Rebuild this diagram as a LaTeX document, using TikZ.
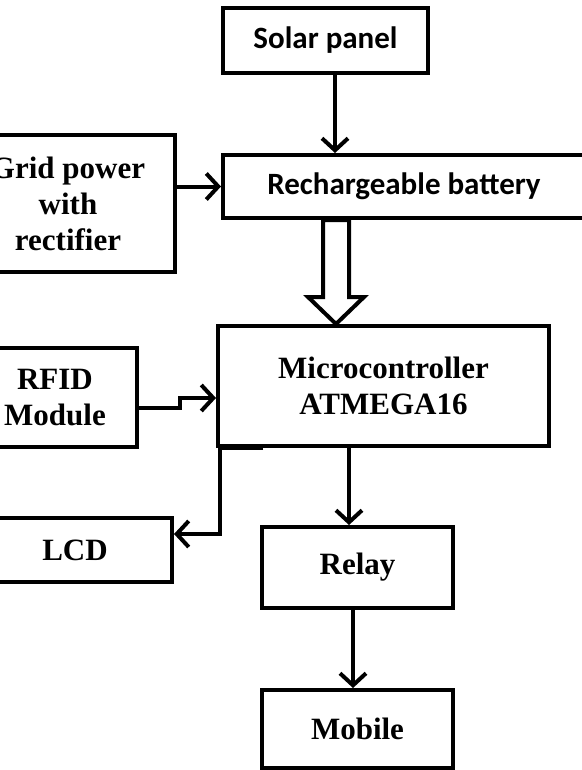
\documentclass[tikz,border=0pt]{standalone}
\usepackage{fontspec}
\newfontfamily\carlito{Carlito}[UprightFont={* Bold}]
\newfontfamily\serifbf{Liberation Serif}
\usetikzlibrary{arrows.meta, positioning, calc}

\begin{document}
\begin{tikzpicture}[
  block/.style={rectangle, draw=black, line width=4pt, fill=white,
                align=center, inner sep=2pt,
                font=\fontsize{31}{36}\selectfont\serifbf\bfseries},
  sblock/.style={block, font=\fontsize{31}{37}\selectfont\carlito},
  arr/.style={line width=4pt, -{Straight Barb[length=12pt, width=26pt]}},
  hollow/.style={draw=black, line width=4pt, fill=white, line join=miter}
]
\useasboundingbox (0,0) rectangle (581pt,-770pt);

\node[sblock, minimum width=205pt, minimum height=65pt] (solar) at (325.5pt,-40.5pt) {Solar panel};
\node[sblock, minimum width=362pt, minimum height=63pt, below=78pt of solar.south west, anchor=north west] (battery) {Rechargeable battery};
\node[block, minimum width=214pt, minimum height=137pt, left=44pt of battery.north west, anchor=north east, yshift=20pt] (grid) {Grid power\\with\\rectifier};
\node[block, minimum width=331pt, minimum height=120pt, below=104pt of battery.south west, anchor=north west, xshift=-5pt] (micro) {Microcontroller\\ATMEGA16};
\node[block, minimum width=164pt, minimum height=99pt, left=77pt of micro.north west, anchor=north east, yshift=-22pt] (rfid) {RFID\\Module};
\node[block, minimum width=194pt, minimum height=64pt, below=67pt of rfid.south east, anchor=north east, xshift=35pt] (lcd) {LCD};
\node[block, minimum width=191pt, minimum height=81pt, below=77pt of micro.south west, anchor=north west, xshift=44pt] (relay) {Relay};
\node[block, minimum width=191pt, minimum height=78pt, below=78pt of relay] (mobile) {Mobile};

% power side
\draw[arr] ([xshift=9.5pt]solar.south) -- ([xshift=9.5pt]solar.south |- battery.north);
\draw[arr] (grid.east |- battery.west) -- (battery.west);
\coordinate (tap) at ([xshift=10.5pt]solar.south);
\draw[hollow] ($(tap |- battery.south)+(-13pt,0)$) -- ++(0,-77pt) -- ++(-15pt,0)
  -- ++(28pt,-27pt) -- ++(28pt,27pt) -- ++(-15pt,0) -- ++(0,77pt) -- cycle;

% controller side
\draw[arr] ([yshift=-10.5pt]rfid.east) -- ++(41pt,0) |- ([yshift=-12pt]micro.west);
\draw[arr] ([xshift=47pt]micro.south west) -- ([xshift=4pt]micro.south west) |- ([yshift=16pt]lcd.east);
\draw[arr] ([xshift=-8.5pt]relay.north |- micro.south) -- ([xshift=-8.5pt]relay.north);
\draw[arr] ([xshift=-4.5pt]relay.south) -- ([xshift=-4.5pt]mobile.north);
\end{tikzpicture}
\end{document}
